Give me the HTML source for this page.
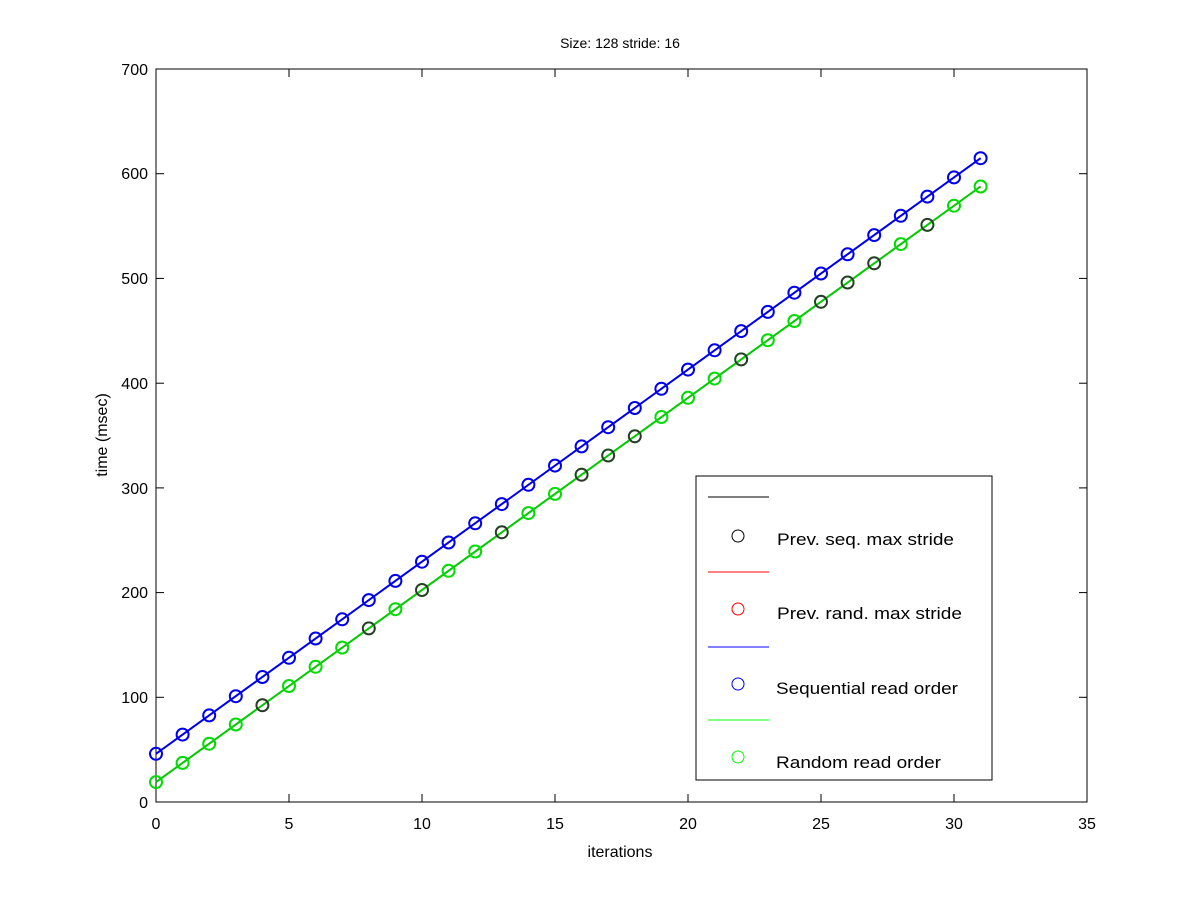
<!DOCTYPE html>
<html><head><meta charset="utf-8"><style>body{margin:0;background:#fff}svg{display:block}text{font-family:"Liberation Sans",sans-serif;font-size:16px;fill:#000}</style></head><body>
<svg width="1201" height="900" viewBox="0 0 1201 900">
<defs>
<marker id="mb" markerUnits="userSpaceOnUse" markerWidth="16" markerHeight="16" refX="8" refY="8"><circle cx="8" cy="8" r="6" fill="none" stroke="#0000ee" stroke-width="2"/></marker>
<marker id="mk" markerUnits="userSpaceOnUse" markerWidth="16" markerHeight="16" refX="8" refY="8"><circle cx="8" cy="8" r="6" fill="none" stroke="#333" stroke-width="1.8"/></marker>
<marker id="mg" markerUnits="userSpaceOnUse" markerWidth="16" markerHeight="16" refX="8" refY="8"><circle cx="8" cy="8" r="6" fill="none" stroke="#00dd00" stroke-width="2"/></marker>
</defs>
<rect x="156" y="69" width="931" height="733" fill="none" stroke="#000"/>
<g stroke="#000">
<line x1="156" y1="802" x2="156" y2="794"/><line x1="289" y1="802" x2="289" y2="794"/><line x1="422" y1="802" x2="422" y2="794"/><line x1="555" y1="802" x2="555" y2="794"/><line x1="688" y1="802" x2="688" y2="794"/><line x1="821" y1="802" x2="821" y2="794"/><line x1="954" y1="802" x2="954" y2="794"/>
<line x1="289" y1="69" x2="289" y2="77"/><line x1="422" y1="69" x2="422" y2="77"/><line x1="555" y1="69" x2="555" y2="77"/><line x1="688" y1="69" x2="688" y2="77"/><line x1="821" y1="69" x2="821" y2="77"/><line x1="954" y1="69" x2="954" y2="77"/>
<line x1="156" y1="697.3" x2="164" y2="697.3"/><line x1="156" y1="592.6" x2="164" y2="592.6"/><line x1="156" y1="487.9" x2="164" y2="487.9"/><line x1="156" y1="383.2" x2="164" y2="383.2"/><line x1="156" y1="278.4" x2="164" y2="278.4"/><line x1="156" y1="173.7" x2="164" y2="173.7"/>
<line x1="1087" y1="697.3" x2="1079" y2="697.3"/><line x1="1087" y1="592.6" x2="1079" y2="592.6"/><line x1="1087" y1="487.9" x2="1079" y2="487.9"/><line x1="1087" y1="383.2" x2="1079" y2="383.2"/><line x1="1087" y1="278.4" x2="1079" y2="278.4"/><line x1="1087" y1="173.7" x2="1079" y2="173.7"/>
</g>
<g text-anchor="middle">
<text x="156" y="829">0</text><text x="289" y="829">5</text><text x="422" y="829">10</text><text x="555" y="829">15</text><text x="688" y="829">20</text><text x="821" y="829">25</text><text x="954" y="829">30</text><text x="1087" y="829">35</text>
<text x="620" y="857">iterations</text>
<text x="620" y="48" style="font-size:14px">Size: 128 stride: 16</text>
</g>
<g text-anchor="end">
<text x="148" y="808">0</text><text x="148" y="703">100</text><text x="148" y="598">200</text><text x="148" y="494">300</text><text x="148" y="389">400</text><text x="148" y="284">500</text><text x="148" y="179">600</text><text x="148" y="75">700</text>
</g>
<text transform="translate(107,435) rotate(-90)" text-anchor="middle">time (msec)</text>
<line x1="156" y1="782.1" x2="980.6" y2="186.5" stroke="#ff0000" stroke-width="1.5"/>
<line x1="156" y1="782.1" x2="980.6" y2="186.5" stroke="#00cc00" stroke-width="2"/>
<line x1="156" y1="753.8" x2="980.6" y2="158.2" stroke="#000" stroke-width="1.5"/>
<line x1="156" y1="753.8" x2="980.6" y2="158.2" stroke="#0000ee" stroke-width="2"/>
<polyline fill="none" stroke="none" marker-start="url(#mb)" marker-mid="url(#mb)" marker-end="url(#mb)" points="156,753.8 182.6,734.6 209.2,715.4 235.8,696.2 262.4,677 289,657.8 315.6,638.5 342.2,619.3 368.8,600.1 395.4,580.9 422,561.7 448.6,542.5 475.2,523.3 501.8,504.1 528.4,484.8 555,465.6 581.6,446.4 608.2,427.2 634.8,408 661.4,388.8 688,369.6 714.6,350.3 741.2,331.1 767.8,311.9 794.4,292.7 821,273.5 847.6,254.3 874.2,235.1 900.8,215.8 927.4,196.6 954,177.4 980.6,158.2"/>
<polyline fill="none" stroke="none" marker-start="url(#mg)" marker-mid="url(#mg)" marker-end="url(#mg)" points="156,782.1 182.6,762.9 209.2,743.7 235.8,724.5 262.4,705.2 289,686 315.6,666.8 342.2,647.6 368.8,628.4 395.4,609.2 422,590 448.6,570.8 475.2,551.5 501.8,532.3 528.4,513.1 555,493.9 581.6,474.7 608.2,455.5 634.8,436.3 661.4,417 688,397.8 714.6,378.6 741.2,359.4 767.8,340.2 794.4,321 821,301.8 847.6,282.5 874.2,263.3 900.8,244.1 927.4,224.9 954,205.7 980.6,186.5"/>
<polyline fill="none" stroke="none" marker-start="url(#mk)" marker-mid="url(#mk)" marker-end="url(#mk)" points="262.4,705.2 368.8,628.4 422,590 501.8,532.3 581.6,474.7 608.2,455.5 634.8,436.3 741.2,359.4 821,301.8 847.6,282.5 874.2,263.3 927.4,224.9"/>
<rect x="696" y="476" width="296" height="304" fill="#fff" stroke="#000"/>
<line x1="708" y1="497" x2="769" y2="497" stroke="#000"/>
<circle cx="738" cy="536" r="6" fill="none" stroke="#000"/>
<text x="777" y="545" style="font-size:17px" textLength="177" lengthAdjust="spacingAndGlyphs">Prev. seq. max stride</text>
<line x1="708" y1="572" x2="769" y2="572" stroke="#ff0000"/>
<circle cx="738" cy="609" r="6" fill="none" stroke="#ff0000"/>
<text x="777" y="619" style="font-size:17px" textLength="185" lengthAdjust="spacingAndGlyphs">Prev. rand. max stride</text>
<line x1="708" y1="647" x2="769" y2="647" stroke="#0000ff"/>
<circle cx="738" cy="684" r="6" fill="none" stroke="#0000ff"/>
<text x="776" y="694" style="font-size:17px" textLength="182" lengthAdjust="spacingAndGlyphs">Sequential read order</text>
<line x1="708" y1="720" x2="769" y2="720" stroke="#00ff00"/>
<circle cx="738" cy="757" r="6" fill="none" stroke="#00ff00"/>
<text x="776" y="768" style="font-size:17px" textLength="165" lengthAdjust="spacingAndGlyphs">Random read order</text>
</svg>
</body></html>
